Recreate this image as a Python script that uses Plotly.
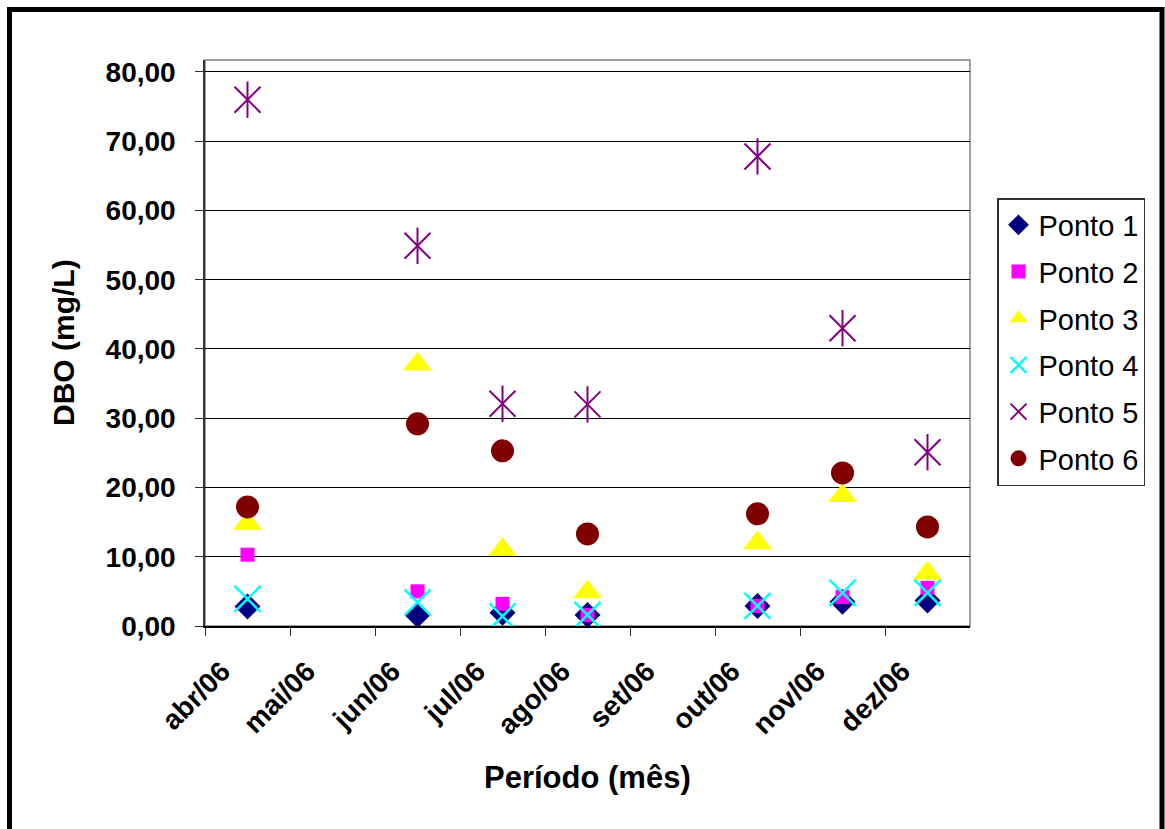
import plotly.graph_objects as go

# ---- data ----
months = ["abr/06", "mai/06", "jun/06", "jul/06", "ago/06", "set/06", "out/06", "nov/06", "dez/06"]
month_pos = [0, 1, 2, 3, 4, 5, 6, 7, 8]
# sampling dates (mid-month positions on the month axis)
sample_x = [0.5, 2.5, 3.5, 4.5, 6.5, 7.5, 8.5]

ponto1 = [2.8, 1.6, 1.9, 1.6, 2.9, 3.5, 3.7]
ponto2 = [10.3, 5.0, 3.2, 1.6, 2.9, 4.2, 5.5]
ponto3 = [14.8, 37.8, 11.0, 4.9, 12.0, 18.8, 7.6]
ponto4 = [3.9, 3.4, 1.4, 1.6, 2.9, 4.8, 4.8]
ponto5 = [76.0, 54.9, 32.1, 32.0, 67.8, 43.0, 25.1]
ponto6 = [17.2, 29.2, 25.3, 13.3, 16.2, 22.1, 14.3]

FONT = "Liberation Sans, Arial, sans-serif"

fig = go.Figure()

def add(name, y, symbol, color, size, lw=0, group=None, showlegend=True):
    fig.add_trace(go.Scatter(
        x=sample_x, y=y, mode="markers", name=name,
        legendgroup=group or name, showlegend=showlegend,
        marker=dict(symbol=symbol, color=color, size=size,
                    line=dict(width=lw, color=color)),
    ))

add("Ponto 1", ponto1, "diamond", "#000080", 20)
add("Ponto 2", ponto2, "square", "#FF00FF", 14)
add("Ponto 3", ponto3, "triangle-up", "#FFFF00", 25)
add("Ponto 4", ponto4, "x-thin", "#00FFFF", 26, lw=2.5)
add("Ponto 5", ponto5, "x-thin", "#800080", 26, lw=2)
add("Ponto 5", ponto5, "line-ns", "#800080", 26, lw=2, group="Ponto 5", showlegend=False)
add("Ponto 6", ponto6, "circle", "#800000", 23)

W, H = 1165, 829
L, R, T, B = 205, 970, 60, 626

def px(x):
    return (x - L) / (R - L)

def py(y):
    return (B - y) / (B - T)

fig.update_layout(
    width=W, height=H,
    margin=dict(l=L, r=W - R, t=T, b=H - B, pad=0),
    paper_bgcolor="white", plot_bgcolor="white",
    separators=",.",
    font=dict(family=FONT, color="black"),
    showlegend=True,
    legend=dict(
        x=px(997), y=py(198), xanchor="left", yanchor="top",
        bordercolor="#333333", borderwidth=1.5, bgcolor="white",
        font=dict(family=FONT, size=29, color="black"),
        traceorder="grouped", tracegroupgap=6,
        itemsizing="trace",
    ),
    xaxis=dict(
        range=[0, 9], tickmode="array", tickvals=month_pos, ticktext=months,
        tickangle=-45, ticks="outside", ticklen=8, tickcolor="#333333",
        ticklabelshift=17, ticklabelstandoff=8,
        showgrid=False, zeroline=False,
        showline=True, linecolor="black", linewidth=1.5,
        tickfont=dict(family=FONT, size=28, color="black", weight="bold"),
        fixedrange=True,
    ),
    yaxis=dict(
        range=[0, 81.73], tickmode="array", tickvals=list(range(0, 81, 10)),
        tickformat=".2f", ticks="outside", ticklen=8, tickcolor="#333333",
        ticklabelstandoff=14,
        showgrid=True, gridcolor="black", gridwidth=1,
        zeroline=False, showline=True, linecolor="#333333", linewidth=1.5,
        tickfont=dict(family=FONT, size=28, color="black", weight="bold"),
        fixedrange=True,
    ),
    annotations=[
        dict(text="<b>DBO (mg/L)</b>", xref="paper", yref="paper",
             x=px(63), y=0.5, textangle=-90, showarrow=False,
             font=dict(family=FONT, size=30, color="black"),
             xanchor="center", yanchor="middle"),
        dict(text="<b>Período (mês)</b>", xref="paper", yref="paper",
             x=0.5, y=py(777), showarrow=False,
             font=dict(family=FONT, size=31, color="black"),
             xanchor="center", yanchor="middle"),
    ],
    shapes=[
        # plot area frame (gray)
        dict(type="rect", xref="paper", yref="paper", x0=0, x1=1, y0=0, y1=1,
             line=dict(color="#808080", width=1.5), layer="below"),
        # outer chart border
        dict(type="rect", xref="paper", yref="paper",
             x0=px(9.5), x1=px(1162), y0=py(845), y1=py(9.5),
             line=dict(color="black", width=5)),
    ],
)

fig.write_html("out.html")
